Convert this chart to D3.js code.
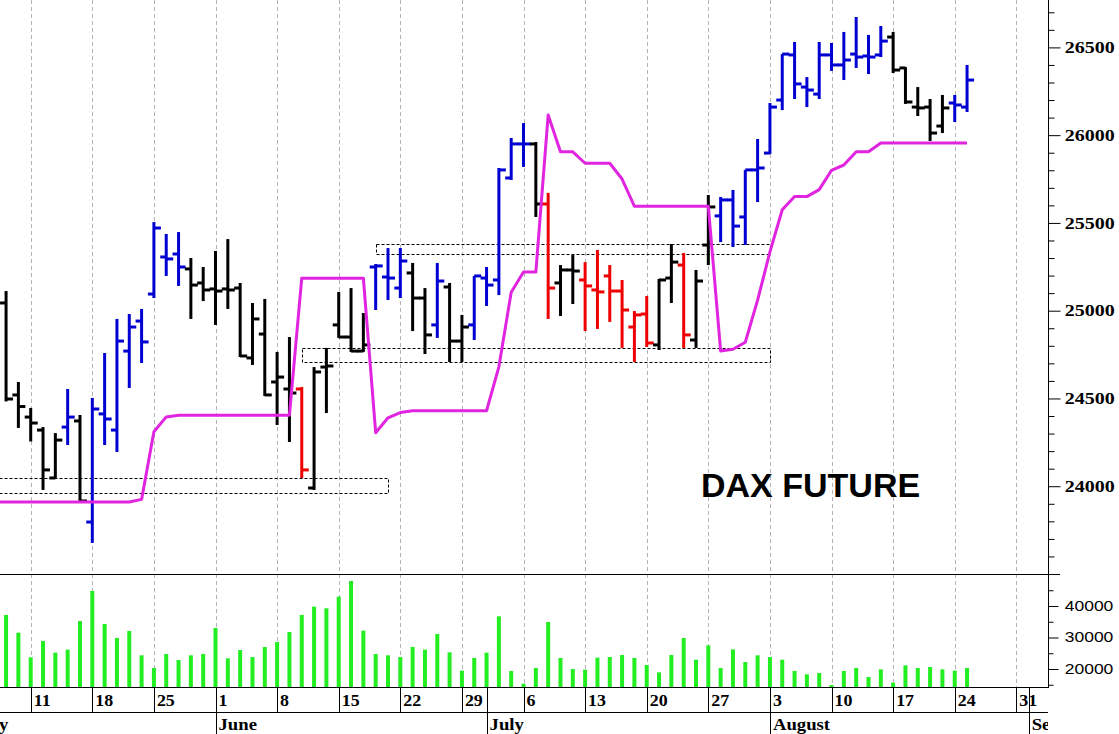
<!DOCTYPE html>
<html>
<head>
<meta charset="utf-8">
<script src="https://cdn.jsdelivr.net/npm/d3@7"></script>
<style>
html,body{margin:0;padding:0;background:#fff;}
svg{display:block;}
</style>
</head>
<body>
<svg id="chart" width="1119" height="734"></svg>
<script>
// ---------- DATA (one entry per trading slot, left to right) ----------
const opens = [25044,24520,24394,24320,24047,24337,24372,23796,24412,24320,
  24770,24941,25095,25306,25323,25238,25158,25124,25124,25129,
  24731,24867,24594,24554,24554,23990,24679,24919,24850,24770,
  25249,25192,25129,25215,25072,24919,25135,24827,24919,25186,
  25175,25756,25950,25950,25608,25158,25232,25175,25118,25198,
  25112,24907,24981,24805,25186,25260,24833,25374,25540,25631,
  25534,25802,25898,26200,26457,26274,26234,26457,26400,26462,
  26451,26457,26559,26383,26160,26160,26052,26183,26160];
const highs = [25112,24594,24446,24337,24303,24554,24406,24503,24759,24953,
  24981,25010,25505,25437,25448,25300,25249,25340,25408,25158,
  25044,25067,24765,24850,24565,24679,24788,25107,25129,24987,
  25266,25357,25357,25272,25129,25272,25158,24976,25198,25249,
  25813,25984,26069,25961,25671,25260,25317,25277,25346,25260,
  25175,24998,25084,25181,25380,25329,25232,25659,25648,25688,
  25802,25978,26183,26462,26531,26331,26531,26525,26588,26673,
  26571,26622,26588,26388,26274,26206,26229,26229,26400];
const lows = [24483,24332,24255,23979,24047,24235,23905,23677,24235,24195,
  24560,24702,25072,25198,25141,24953,25055,24919,25010,24736,
  24691,24514,24349,24252,24047,23979,24417,24845,24765,24765,
  25004,25061,25072,24884,24753,24845,24708,24708,24833,25027,
  25089,25745,25819,25534,24953,24970,25038,24884,24896,24936,
  24788,24708,24793,24776,25044,24788,24788,25260,25391,25363,
  25374,25619,25893,26143,26206,26160,26206,26366,26314,26383,
  26348,26445,26354,26178,26109,25967,26012,26075,26132];
const closes = [24497,24454,24360,24093,24263,24394,23916,24440,24383,24827,
  24907,24822,25471,25295,25249,25146,25118,25112,25118,24742,
  24953,24520,24622,24531,24093,24651,24685,24850,24770,24805,
  25255,25186,25283,25072,24862,25169,24827,24907,25198,25146,
  25802,25950,25950,25608,25129,25232,25226,25141,25107,25112,
  25004,24976,24816,25175,25277,24862,25169,25591,25631,25482,
  25802,25813,26160,26462,26292,26257,26457,26400,26428,26445,
  26445,26536,26371,26189,26155,26012,26155,26172,26314];
// trend state of each bar: k = neutral, b = up trend, r = down trend
const trend = ["k","k","k","k","k","b","k","b","b","b",
  "b","b","b","b","b","k","k","k","k","k",
  "k","k","k","k","r","k","k","k","k","k",
  "b","b","b","k","k","b","k","k","b","b",
  "b","b","b","k","r","k","k","r","r","r",
  "r","r","r","k","k","r","k","k","b","b",
  "b","b","b","b","b","b","b","b","b","b",
  "b","b","k","k","k","k","k","b","b"];
const volumes = [37140,31530,23700,28890,25190,26140,35240,44760,34290,29840,
  32060,24340,20320,24760,22860,24340,24760,33020,23390,26030,
  23810,26980,28570,31750,37140,39790,39260,42960,47940,32170,
  24760,24340,23810,26980,26140,31110,25290,19470,23490,25190,
  36720,19370,15340,20320,34920,23490,20000,19790,23600,23810,
  24440,23490,21270,18940,24440,29840,22960,27510,20320,26240,
  22220,24340,23810,22960,19370,18310,18730,14920,19370,20320,
  17460,19890,15660,21160,20320,20630,19890,19470,20320];
// trailing stop line (magenta)
const stopLine = [23910,23910,23910,23910,23910,23910,23910,23910,23910,23910,
  23910,23925,24310,24395,24405,24405,24405,24405,24405,24405,
  24405,24405,24405,24405,25185,25185,25185,25185,25185,25185,
  24305,24390,24420,24430,24430,24430,24430,24430,24430,24430,
  24680,25105,25220,25220,26115,25905,25905,25840,25840,25840,
  25750,25595,25595,25595,25595,25595,25595,25595,24770,24780,
  24820,25060,25335,25575,25650,25650,25690,25800,25830,25905,
  25905,25955,25955,25955,25955,25955,25955,25955,25955];
// support / resistance boxes: slot range and price range
const boxFrom = [-5, 24, 30];
const boxTo   = [31, 62, 62];
const boxLow  = [23960, 24708, 25321];
const boxHigh = [24045, 24790, 25378];
// weekly ticks (slot of each week start) and their day labels
const weekSlots = [2,7,12,17,22,27,32,37,42,47,52,57,62,67,72,77,82];
const dayLabels = ["11","18","25","1","8","15","22","29","6","13","20","27","3","10","17","24","31"];
// month starts
const monthSlots  = [-3,17,39,62,83];
const monthLabels = ["May","June","July","August","September"];
// axis ticks
const priceMajor = [24000,24500,25000,25500,26000,26500];
const priceMinor = d3.range(23600,26800,100).filter(v=>v%500!==0);
const volMajor = [20000,30000,40000];
const volMinor = [15000,25000,35000,45000];
const titleText = "DAX FUTURE";

// ---------- LAYOUT ----------
const axisX = 1048;
const priceBottom = 574, volTop = 575, volBottom = 687, dayRowBottom = 712, H = 734;
const colors = {k:"#000000", b:"#0000d2", r:"#ee0000"};
const serif = "'Liberation Serif','Times New Roman',serif";
const sans = "'Liberation Sans',Arial,sans-serif";

const svg = d3.select("#chart");
svg.append("rect").attr("width",1119).attr("height",734).attr("fill","#fff");

const x = d3.scaleLinear().domain([-0.492, 84.57]).range([0, axisX]);
const y = d3.scaleLinear().domain([23500, 26770]).range([priceBottom, 0]);
const yv = d3.scaleLinear().domain([14286, 49841]).range([volBottom, volTop]);
const px = s => Math.round(x(s)) + 0.5;

const defs = svg.append("defs");
defs.append("clipPath").attr("id","clipPlot").append("rect")
  .attr("x",0).attr("y",0).attr("width",axisX).attr("height",volBottom);
defs.append("clipPath").attr("id","clipX").append("rect")
  .attr("x",0).attr("y",volBottom).attr("width",axisX).attr("height",H-volBottom);

const plot = svg.append("g").attr("clip-path","url(#clipPlot)");

// gridlines
plot.append("g").selectAll("line").data(weekSlots).join("line")
  .attr("x1",px).attr("x2",px).attr("y1",0).attr("y2",volBottom)
  .attr("stroke","#b4b4b4").attr("stroke-width",1).attr("stroke-dasharray","4,3");

// title
plot.append("text").attr("x",701).attr("y",497)
  .attr("font-family",sans).attr("font-weight","bold").attr("font-size",34)
  .attr("fill","#000").text(titleText);

// boxes
const boxes = boxFrom.map((f,i)=>({f, t:boxTo[i], lo:boxLow[i], hi:boxHigh[i]}));
plot.append("g").selectAll("rect").data(boxes).join("rect")
  .attr("x",d=>px(d.f)).attr("width",d=>px(d.t)-px(d.f))
  .attr("y",d=>Math.round(y(d.hi))+0.5).attr("height",d=>Math.round(y(d.lo))-Math.round(y(d.hi)))
  .attr("fill","none").attr("stroke","#000").attr("stroke-width",1).attr("stroke-dasharray","3,2");

// volume bars
plot.append("g").selectAll("rect").data(volumes).join("rect")
  .attr("x",(d,i)=>x(i)-2).attr("width",4)
  .attr("y",d=>yv(d)).attr("height",d=>volBottom-yv(d))
  .attr("fill","#22ee22");

// OHLC bars
const bars = opens.map((o,i)=>({i,o,h:highs[i],l:lows[i],c:closes[i],col:colors[trend[i]]}));
const bg = plot.append("g").selectAll("g").data(bars).join("g")
  .attr("stroke",d=>d.col).attr("stroke-width",3);
bg.append("line").attr("x1",d=>x(d.i)).attr("x2",d=>x(d.i))
  .attr("y1",d=>y(d.h)).attr("y2",d=>y(d.l));
bg.append("line").attr("x1",d=>x(d.i)-6).attr("x2",d=>x(d.i))
  .attr("y1",d=>y(d.o)).attr("y2",d=>y(d.o));
bg.append("line").attr("x1",d=>x(d.i)).attr("x2",d=>x(d.i)+7)
  .attr("y1",d=>y(d.c)).attr("y2",d=>y(d.c));

// stop line
const stopPts = [{i:-1, v:stopLine[0]}].concat(stopLine.map((v,i)=>({i,v})));
plot.append("path").datum(stopPts)
  .attr("d", d3.line().x(d=>x(d.i)).y(d=>y(d.v)))
  .attr("fill","none").attr("stroke","#e024e0").attr("stroke-width",3)
  .attr("stroke-linejoin","round");

// frame lines
svg.append("line").attr("x1",0).attr("x2",1060).attr("y1",574.5).attr("y2",574.5).attr("stroke","#000");
svg.append("line").attr("x1",0).attr("x2",axisX).attr("y1",volBottom+0.5).attr("y2",volBottom+0.5).attr("stroke","#000");
svg.append("line").attr("x1",0).attr("x2",axisX).attr("y1",dayRowBottom+0.5).attr("y2",dayRowBottom+0.5).attr("stroke","#000");
svg.append("line").attr("x1",axisX+0.5).attr("x2",axisX+0.5).attr("y1",0).attr("y2",volBottom+1).attr("stroke","#000");

// price axis
function styleAxis(g, font, weight, size, sx){
  g.select(".domain").remove();
  g.selectAll("line").attr("stroke","#000");
  g.selectAll("text").attr("font-family",font).attr("font-weight",weight)
    .attr("font-size",size).attr("fill","#000")
    .attr("transform",`scale(${sx},1)`);
}
const pa = svg.append("g").attr("transform",`translate(${axisX+0.5},0)`)
  .call(d3.axisRight(y).tickValues(priceMajor).tickSizeInner(12).tickSizeOuter(0).tickPadding(1).tickFormat(d3.format("d")));
styleAxis(pa, serif, "bold", 16, 1.25);
svg.append("g").attr("transform",`translate(${axisX+0.5},0)`)
  .call(d3.axisRight(y).tickValues(priceMinor).tickSizeInner(6).tickSizeOuter(0).tickFormat(""))
  .call(g=>{g.select(".domain").remove(); g.selectAll("line").attr("stroke","#000");});

const va = svg.append("g").attr("transform",`translate(${axisX+0.5},0)`)
  .call(d3.axisRight(yv).tickValues(volMajor).tickSizeInner(10).tickSizeOuter(0).tickPadding(3).tickFormat(d3.format("d")));
styleAxis(va, sans, "normal", 14, 1.25);
svg.append("g").attr("transform",`translate(${axisX+0.5},0)`)
  .call(d3.axisRight(yv).tickValues(volMinor).tickSizeInner(5).tickSizeOuter(0).tickFormat(""))
  .call(g=>{g.select(".domain").remove(); g.selectAll("line").attr("stroke","#000");});

// date axis
const xa = svg.append("g").attr("clip-path","url(#clipX)");
xa.append("g").selectAll("line").data(weekSlots).join("line")
  .attr("x1",px).attr("x2",px).attr("y1",volBottom).attr("y2",dayRowBottom)
  .attr("stroke","#000");
xa.append("g").selectAll("text").data(weekSlots).join("text")
  .attr("transform",s=>`translate(${x(s)+3},706) scale(1.12,1)`)
  .attr("font-family",serif).attr("font-weight","bold").attr("font-size",16).attr("fill","#000")
  .text((s,k)=>dayLabels[k]);
xa.append("g").selectAll("text").data(monthSlots).join("text")
  .attr("transform",s=>`translate(${x(s)+3},730) scale(1.1,1)`)
  .attr("font-family",serif).attr("font-weight","bold").attr("font-size",17).attr("fill","#000")
  .text((s,k)=>monthLabels[k]);
xa.append("g").selectAll("line").data(monthSlots).join("line")
  .attr("x1",px).attr("x2",px).attr("y1",volBottom).attr("y2",H)
  .attr("stroke","#000");
</script>
</body>
</html>
